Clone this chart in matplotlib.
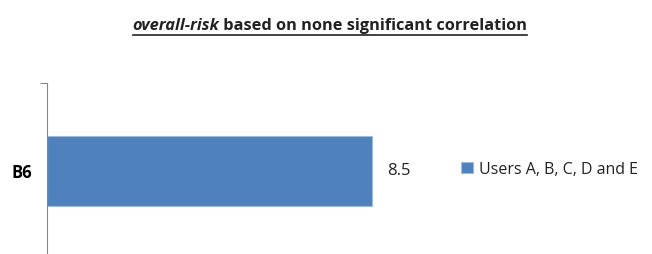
import matplotlib.pyplot as plt
from matplotlib.lines import Line2D

categories = ["B6"]
values = [8.5]
series_name = "Users A, B, C, D and E"
title_italic = "overall-risk"
title_rest = " based on none significant correlation"

plt.rcParams['font.family'] = ['Open Sans', 'DejaVu Sans']

fig = plt.figure(figsize=(6.52, 2.55), dpi=100)
W, H = 652, 255
# axes placed in pixel terms: left 47, top 80, bar axis extends past bottom
ax = fig.add_axes([47 / W, -4 / H, 344 / W, 84 / H + 91 / H])

bars = ax.barh(range(len(categories)), values, height=0.4, color='#4F81BD',
               edgecolor='#9DB9DE', linewidth=0.8, label=series_name)
ax.set_xlim(0, 9)
ax.set_ylim(-0.5, len(categories) - 0.5)

for b, v in zip(bars, values):
    ax.text(b.get_width() + 0.4, b.get_y() + b.get_height() / 2, f"{v}",
            va='center', ha='left', fontsize=12, color='#222222')

for s in ['top', 'right', 'bottom']:
    ax.spines[s].set_visible(False)
ax.spines['left'].set_color('#868686')
ax.set_xticks([])
ax.set_yticks([-0.5, 0.5])
ax.set_yticklabels([])
ax.tick_params(axis='y', which='major', length=5, color='#868686', direction='out')
ax.set_yticks(range(len(categories)), minor=True)
ax.set_yticklabels(categories, minor=True, fontweight='bold', fontsize=12)
ax.tick_params(axis='y', which='minor', length=0, pad=11)

leg = fig.legend(handles=[bars], labels=[series_name], loc='center left',
                 bbox_to_anchor=(447 / W, 1 - 170 / H), frameon=False,
                 fontsize=11.5, handlelength=0.7, handleheight=0.7,
                 handletextpad=0.4)
for t in leg.get_texts():
    t.set_color('#222222')

# title with italic part and underline
fig.canvas.draw()
r = fig.canvas.get_renderer()
t1 = fig.text(0, 1 - 30 / H, title_italic, fontsize=11.8, fontweight='bold',
              fontstyle='italic', color='#222222', va='baseline')
t2 = fig.text(0, 1 - 30 / H, title_rest, fontsize=11.8, fontweight='bold',
              color='#222222', va='baseline')
w1 = t1.get_window_extent(r).width
w2 = t2.get_window_extent(r).width
x0 = 330 - (w1 + w2) / 2
t1.set_x(x0 / W)
t2.set_x((x0 + w1) / W)
fig.add_artist(Line2D([x0 / W, (x0 + w1 + w2) / W], [1 - 36 / H, 1 - 36 / H],
                      color='#222222', linewidth=1.2, transform=fig.transFigure))

fig.savefig('out.png', dpi=100)
